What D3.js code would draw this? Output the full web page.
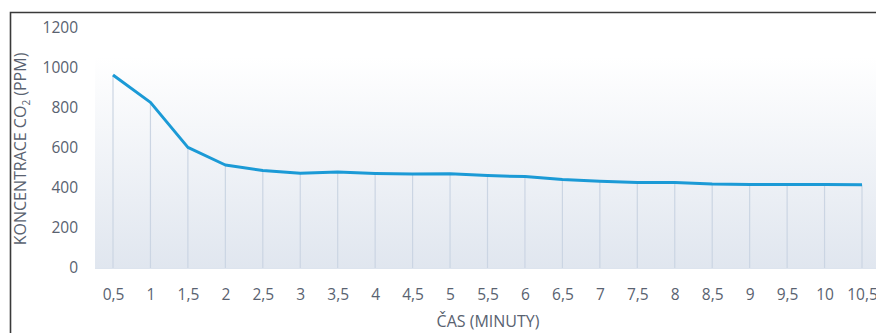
<!DOCTYPE html>
<html>
<head>
<meta charset="utf-8">
<script src="https://cdn.jsdelivr.net/npm/d3@7"></script>
<style>
  html, body { margin: 0; padding: 0; background: #fff; }
  svg { display: block; }
  text { font-family: "Open Sans", sans-serif; fill: #596270; }
</style>
</head>
<body>
<svg id="chart" width="876" height="333"></svg>
<script>
// Time in minutes and CO2 concentration in ppm
const minutes = [0.5, 1, 1.5, 2, 2.5, 3, 3.5, 4, 4.5, 5, 5.5, 6, 6.5, 7, 7.5, 8, 8.5, 9, 9.5, 10, 10.5];
const minuteLabels = ["0,5", "1", "1,5", "2", "2,5", "3", "3,5", "4", "4,5", "5", "5,5", "6", "6,5", "7", "7,5", "8", "8,5", "9", "9,5", "10", "10,5"];
const co2ppm = [965, 828, 603, 515, 487, 474, 480, 473, 470, 471, 462, 457, 442, 434, 428, 428, 420, 417, 417, 417, 416];
const yTicks = [0, 200, 400, 600, 800, 1000, 1200];

const svg = d3.select("#chart");
const W = 876, H = 333;

const x = d3.scaleLinear().domain([0.5, 10.5]).range([113, 862]);
const y = d3.scaleLinear().domain([0, 1200]).range([268, 28]);

// Plot area background gradient
const defs = svg.append("defs");
const grad = defs.append("linearGradient")
  .attr("id", "bg").attr("x1", 0).attr("y1", 0).attr("x2", 0).attr("y2", 1);
grad.append("stop").attr("offset", "0%").attr("stop-color", "#ffffff");
grad.append("stop").attr("offset", "12%").attr("stop-color", "#ffffff");
grad.append("stop").attr("offset", "100%").attr("stop-color", "#e0e6ef");

svg.append("rect")
  .attr("x", x(0.5) - 18).attr("y", y(1200))
  .attr("width", W - (x(0.5) - 18)).attr("height", y(0) - y(1200) + 1)
  .attr("fill", "url(#bg)");

// Frame (left and top edges)
svg.append("path")
  .attr("d", `M10.5,${H} L10.5,12.5 L${W},12.5`)
  .attr("fill", "none").attr("stroke", "#3a3a3a").attr("stroke-width", 1.6);

const data = minutes.map((m, i) => ({ m, v: co2ppm[i] }));

// Drop lines from each point to the baseline
svg.append("g").selectAll("line").data(data).join("line")
  .attr("x1", d => x(d.m)).attr("x2", d => x(d.m))
  .attr("y1", d => y(d.v)).attr("y2", y(0))
  .attr("stroke", "#cbd5e3").attr("stroke-width", 1.2);

// Baseline
svg.append("line")
  .attr("x1", x(0.5) - 18).attr("x2", W)
  .attr("y1", y(0) + 0.5).attr("y2", y(0) + 0.5)
  .attr("stroke", "#dde4ee").attr("stroke-width", 1);

// Series line
svg.append("path").datum(data)
  .attr("fill", "none")
  .attr("stroke", "#1b9ad6")
  .attr("stroke-width", 3)
  .attr("stroke-linejoin", "round")
  .attr("d", d3.line().x(d => x(d.m)).y(d => y(d.v)).curve(d3.curveLinear));

// Y axis
const yAxis = svg.append("g").attr("transform", "translate(78,0)")
  .call(d3.axisLeft(y).tickValues(yTicks).tickSize(0).tickPadding(0).tickFormat(d3.format("d")));
yAxis.select(".domain").remove();
yAxis.selectAll("text").attr("font-size", 15.5).attr("fill", "#596270").attr("font-family", "Open Sans, sans-serif");

// X axis
const xAxis = svg.append("g").attr("transform", `translate(0,${y(0)})`)
  .call(d3.axisBottom(x).tickValues(minutes).tickSize(0).tickPadding(21)
    .tickFormat((d, i) => minuteLabels[i]));
xAxis.select(".domain").remove();
xAxis.selectAll("text").attr("font-size", 15.5).attr("fill", "#596270").attr("font-family", "Open Sans, sans-serif");

// Axis titles
svg.append("text")
  .attr("x", 488).attr("y", 327)
  .attr("text-anchor", "middle").attr("font-size", 16)
  .text("ČAS (MINUTY)");

const yt = svg.append("text")
  .attr("transform", "translate(26,149) rotate(-90)")
  .attr("text-anchor", "middle").attr("font-size", 16);
yt.append("tspan").text("KONCENTRACE CO");
yt.append("tspan").attr("font-size", 10).attr("dy", 4).text("2");
yt.append("tspan").attr("dy", -4).text(" (PPM)");
</script>
</body>
</html>
